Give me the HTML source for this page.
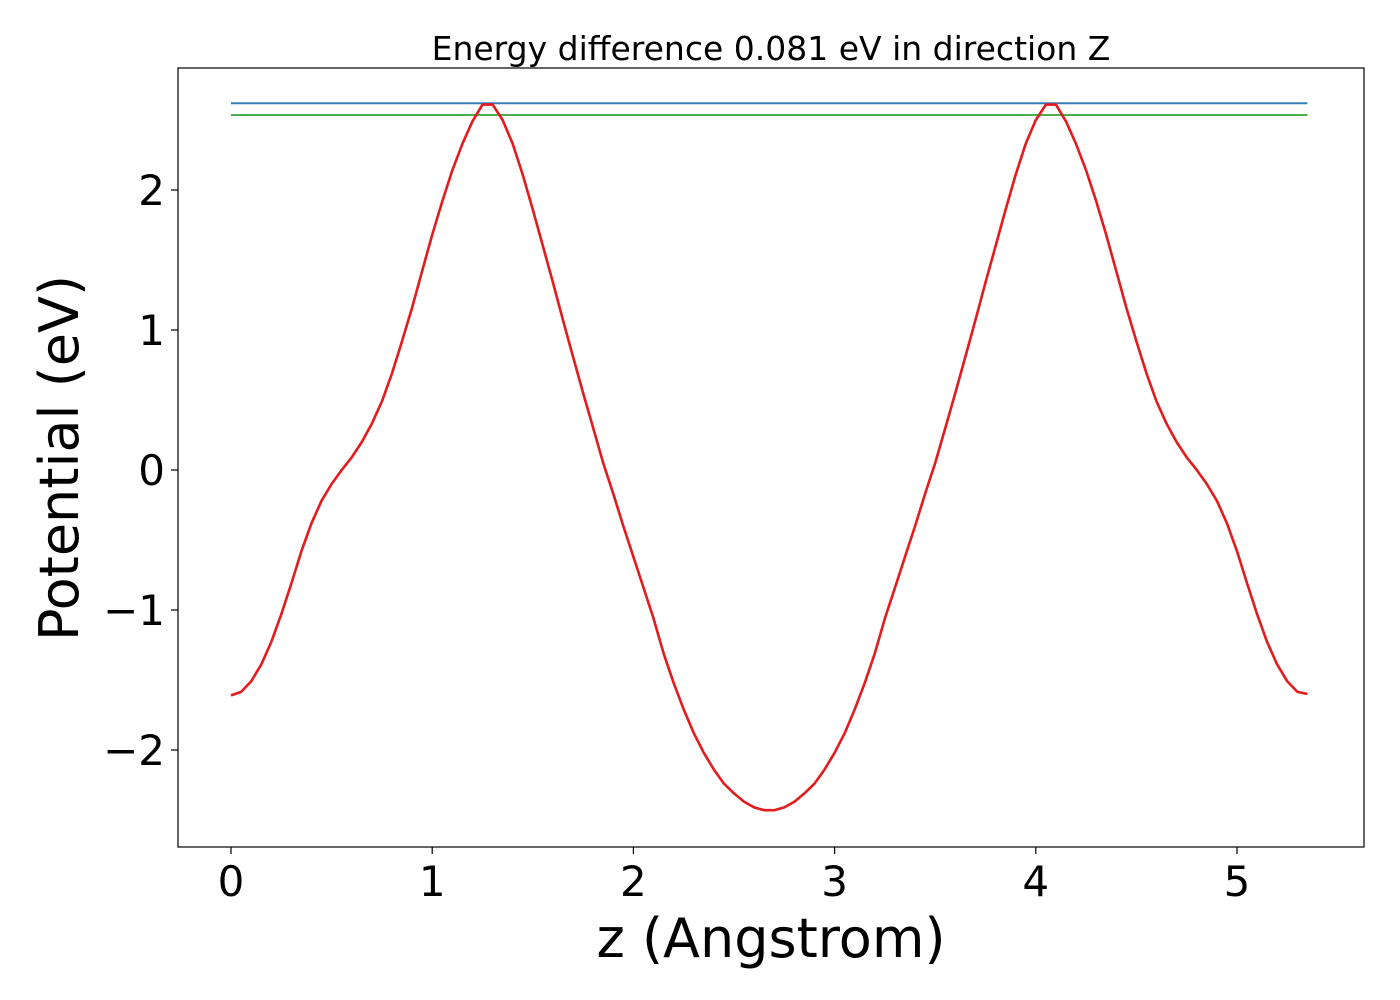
<!DOCTYPE html>
<html><head><meta charset="utf-8"><style>
html,body{margin:0;padding:0;background:#fff;}
svg{display:block;font-family:"DejaVu Sans","Liberation Sans",sans-serif;}
</style></head><body>
<svg id="chart" width="1400" height="1000" viewBox="0 0 1400 1000" xmlns="http://www.w3.org/2000/svg">
<rect width="1400" height="1000" fill="#fff"/>
<text x="771" y="60" font-size="33" text-anchor="middle">Energy difference 0.081 eV in direction Z</text>
<g id="plot"></g>
<rect x="178" y="68" width="1186" height="779" fill="none" stroke="#000" stroke-width="1.2"/>
<text x="771" y="957" font-size="54" text-anchor="middle">z (Angstrom)</text>
<text transform="translate(78,458) rotate(-90)" font-size="54" text-anchor="middle">Potential (eV)</text>
</svg>
<script>
const potentialLeft = [-1.61,-1.585,-1.51,-1.39,-1.23,-1.03,-0.81,-0.58,-0.38,-0.22,-0.10,0.0,0.09,0.20,0.33,0.49,0.69,0.92,1.16,1.42,1.68,1.92,2.14,2.33,2.49,2.61,2.61,2.50,2.33,2.11,1.86,1.60,1.34,1.07,0.81,0.55,0.30,0.05,-0.17,-0.40,-0.62,-0.84,-1.06,-1.31,-1.52,-1.71,-1.88,-2.02,-2.14,-2.24,-2.31,-2.37,-2.41,-2.43];
const potentialRight = [-2.43,-2.41,-2.37,-2.31,-2.24,-2.14,-2.02,-1.88,-1.71,-1.52,-1.31,-1.06,-0.84,-0.62,-0.40,-0.17,0.05,0.30,0.55,0.81,1.07,1.34,1.60,1.86,2.11,2.33,2.50,2.61,2.61,2.49,2.33,2.14,1.92,1.68,1.42,1.16,0.92,0.69,0.49,0.33,0.20,0.09,0.0,-0.10,-0.22,-0.38,-0.58,-0.81,-1.03,-1.23,-1.39,-1.51,-1.585,-1.60];
const zStep = 0.05;
const maxLevel = 2.62;
const secondLevel = 2.536;
const zRange = [0, 5.35];
const xTicks = [0,1,2,3,4,5];
const yTicks = [-2,-1,0,1,2];
const yTickLabels = ["\u22122","\u22121","0","1","2"];

const potential = potentialLeft.concat(potentialRight);
const zVals = potential.map((_, i) => +(i * zStep).toFixed(3));
const X = v => 231 + 201.2 * v;
const Y = v => 470 - 140 * v;
const NS = "http://www.w3.org/2000/svg";
const g = document.getElementById('plot');
function mk(tag, attrs){const e=document.createElementNS(NS,tag);for(const k in attrs)e.setAttribute(k,attrs[k]);return e;}

const blue = mk('line',{x1:X(zRange[0]),x2:X(zRange[1]),y1:Y(maxLevel),y2:Y(maxLevel),stroke:'#377eb8','stroke-width':2});


g.appendChild(blue);
const green = mk('line',{x1:X(zRange[0]),x2:X(zRange[1]),y1:Y(secondLevel),y2:Y(secondLevel),stroke:'#4daf4a','stroke-width':2});


g.appendChild(green);

const pts = potential.map((v,i)=>X(zVals[i]).toFixed(1)+','+Y(v).toFixed(1)).join(' ');
const curve = mk('polyline',{points:pts,fill:'none',stroke:'#e41a1c','stroke-width':2.6,'stroke-linejoin':'round'});


g.appendChild(curve);

xTicks.forEach(t=>{
  const l = mk('line',{x1:X(t),x2:X(t),y1:847,y2:854,stroke:'#000','stroke-width':1.2});
  
  
  g.appendChild(l);
  const tx = mk('text',{x:X(t),y:896,'font-size':42,'text-anchor':'middle'});
  tx.textContent = String(t);
  
  
  g.appendChild(tx);
});
yTicks.forEach((t,i)=>{
  const l = mk('line',{x1:171,x2:178,y1:Y(t),y2:Y(t),stroke:'#000','stroke-width':1.2});
  
  
  g.appendChild(l);
  const tx = mk('text',{x:165,y:Y(t)+15,'font-size':42,'text-anchor':'end'});
  tx.textContent = yTickLabels[i];
  
  
  g.appendChild(tx);
});
</script>
</body></html>
